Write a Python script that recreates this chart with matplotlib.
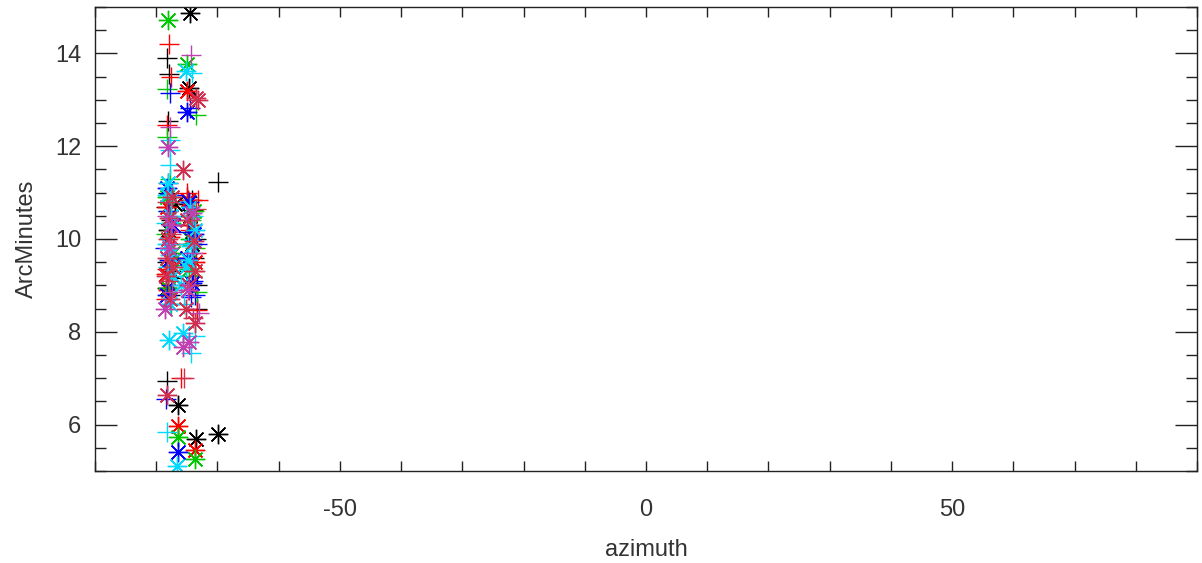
import matplotlib
matplotlib.use("Agg")
import matplotlib.pyplot as plt
from matplotlib.ticker import MultipleLocator

plt.rcParams["font.family"] = ["Liberation Sans", "DejaVu Sans"]
plt.rcParams["axes.unicode_minus"] = False

# azimuth / arcminute pairs, one list per colour and symbol
black_plus_x = [-78.2, -77.9, -78.0, -69.9, -78.1, -77.5, -74.0, -73.5, -73.3, -78.3, -77.8, -78.2, -75.0, -73.8,
                -77.6, -74.6, -78.4, -73.4, -77.2, -74.2]
black_plus_y = [13.9, 13.55, 12.55, 11.23, 11.0, 10.4, 10.62, 10.0, 9.0, 9.5, 8.8, 6.95, 10.9, 9.6,
                9.9, 10.3, 10.7, 8.5, 9.15, 10.85]
black_star_x = [-74.5, -74.6, -76.5, -73.5, -69.9, -78.0, -74.5, -77.5, -74.2, -78.3, -77.0]
black_star_y = [14.88, 13.25, 6.43, 5.68, 5.8, 10.2, 10.5, 9.3, 9.9, 8.95, 10.75]

red_plus_x = [-77.9, -77.6, -78.2, -73.2, -78.1, -77.3, -74.0, -73.3, -75.0, -78.4, -76.0, -74.5,
              -77.8, -73.5, -78.3, -74.7]
red_plus_y = [14.2, 13.5, 12.45, 10.84, 11.2, 9.9, 9.3, 8.47, 11.0, 8.7, 7.0, 10.2,
              10.45, 9.7, 9.35, 8.9]
red_star_x = [-74.9, -76.4, -73.6, -78.2, -77.0, -74.2, -73.6, -78.0, -77.7, -74.8, -78.4]
red_star_y = [13.2, 5.96, 5.46, 10.7, 9.6, 10.3, 9.5, 8.9, 10.05, 10.85, 9.25]

green_plus_x = [-78.3, -78.2, -73.5, -77.8, -78.4, -74.3, -74.1, -77.5, -73.6, -77.7, -73.3, -78.1]
green_plus_y = [13.23, 12.2, 12.67, 11.3, 10.1, 10.4, 9.2, 8.6, 9.8, 9.45, 8.85, 10.6]
green_star_x = [-78.1, -74.9, -76.5, -73.6, -78.2, -77.2, -74.4, -78.0, -73.8, -77.6, -74.7]
green_star_y = [14.71, 13.78, 5.74, 5.25, 10.9, 9.7, 10.0, 8.95, 10.6, 10.35, 9.35]

blue_plus_x = [-77.8, -74.4, -78.4, -78.0, -77.6, -74.0, -73.3, -74.3, -78.5, -73.6, -77.4, -74.8]
blue_plus_y = [13.14, 12.82, 6.55, 10.6, 9.0, 9.1, 9.9, 8.75, 9.8, 8.8, 10.95, 10.15]
blue_star_x = [-75.0, -76.5, -78.2, -77.3, -74.6, -75.0, -78.3, -73.8, -77.9, -74.2]
blue_star_y = [12.73, 5.42, 11.1, 10.3, 10.8, 9.6, 8.8, 10.1, 9.55, 9.05]

cyan_plus_x = [-74.1, -77.8, -77.8, -77.8, -78.3, -74.3, -77.5, -78.0, -74.8, -73.7, -75.5, -78.4, -74.0]
cyan_plus_y = [13.57, 12.13, 11.91, 11.59, 5.83, 7.55, 10.8, 9.4, 9.9, 7.9, 8.6, 10.35, 10.5]
cyan_star_x = [-75.1, -77.9, -75.7, -76.6, -78.1, -77.6, -78.3, -77.3, -74.5, -75.1, -73.7, -76.0, -77.8, -74.8,
               -78.2, -77.7, -74.3]
cyan_star_y = [13.63, 7.83, 7.98, 5.1, 11.2, 10.5, 9.9, 9.2, 10.7, 9.4, 10.2, 9.0, 8.6, 9.55,
               10.95, 9.65, 9.85]

crimson_plus_x = [-75.4, -78.0, -74.0, -77.5, -73.5, -78.3]
crimson_plus_y = [7.0, 9.1, 8.3, 10.1, 10.65, 10.8]
crimson_star_x = [-73.5, -73.2, -75.7, -73.6, -78.3, -78.0, -77.4, -78.2, -74.6, -73.6, -77.7, -74.9, -78.4, -75.2,
                  -77.9, -73.9, -77.3]
crimson_star_y = [13.03, 12.99, 11.48, 8.19, 6.64, 10.0, 10.9, 9.6, 9.0, 9.3, 8.7, 10.4, 9.2, 8.5,
                  10.45, 9.95, 9.4]

magenta_plus_x = [-74.3, -77.7, -73.0, -78.3, -74.0, -77.4]
magenta_plus_y = [13.96, 12.41, 8.4, 10.5, 9.7, 8.85]
magenta_star_x = [-78.0, -75.7, -74.6, -77.5, -78.5, -74.8, -77.9, -74.1]
magenta_star_y = [11.98, 7.68, 7.78, 10.3, 8.5, 8.9, 9.8, 10.55]

groups = [
    ("black", black_plus_x, black_plus_y, black_star_x, black_star_y),
    ("#ff0000", red_plus_x, red_plus_y, red_star_x, red_star_y),
    ("#00c800", green_plus_x, green_plus_y, green_star_x, green_star_y),
    ("#0000ff", blue_plus_x, blue_plus_y, blue_star_x, blue_star_y),
    ("#00d8ff", cyan_plus_x, cyan_plus_y, cyan_star_x, cyan_star_y),
    ("#d03050", crimson_plus_x, crimson_plus_y, crimson_star_x, crimson_star_y),
    ("#c040b0", magenta_plus_x, magenta_plus_y, magenta_star_x, magenta_star_y),
]

text_color = "#333333"
fig = plt.figure(figsize=(12.02, 5.63), dpi=100)
ax = fig.add_axes([0.079, 0.1634, 0.9168, 0.8242])

for color, px, py, sx, sy in groups:
    ax.plot(px, py, linestyle="none", marker="+", color=color, ms=14, mew=1.0)
    ax.plot(sx, sy, linestyle="none", marker=(8, 2, 0), color=color, ms=14, mew=1.0)

ax.set_xlim(-90, 90)
ax.set_ylim(5, 15)
ax.xaxis.set_major_locator(MultipleLocator(50))
ax.xaxis.set_minor_locator(MultipleLocator(10))
ax.yaxis.set_major_locator(MultipleLocator(2))
ax.yaxis.set_minor_locator(MultipleLocator(0.5))

ax.tick_params(axis="both", which="both", direction="in", top=True, right=True,
               width=1.0, color="#222222", labelcolor=text_color, labelsize=17)
ax.tick_params(axis="x", which="both", length=7.2, pad=20)
ax.tick_params(axis="y", which="major", length=15.8, pad=10)
ax.tick_params(axis="y", which="minor", length=7.9)
for sp in ax.spines.values():
    sp.set_linewidth(1.0)
    sp.set_color("#222222")

ax.set_xlabel("azimuth", fontsize=17, color=text_color, labelpad=13)
ax.set_ylabel("ArcMinutes", fontsize=17, color=text_color, labelpad=12)

fig.savefig("out.png", dpi=100)
